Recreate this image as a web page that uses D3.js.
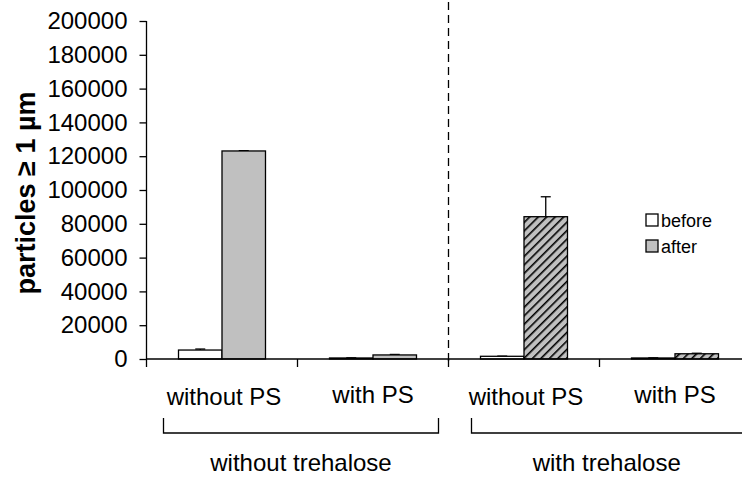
<!DOCTYPE html>
<html>
<head>
<meta charset="utf-8">
<script src="https://cdn.jsdelivr.net/npm/d3@7"></script>
<style>
  body { margin: 0; background: #fff; }
  text { font-family: Arial, "Liberation Sans", sans-serif; fill: #000; }
</style>
</head>
<body>
<div id="chart"></div>
<script>
// datos
const groups = ["g1", "g2", "g3", "g4"];
const psLabels = ["without PS", "with PS", "without PS", "with PS"];
const conditions = ["without trehalose", "with trehalose"];
const series = ["before", "after"];
const beforeValues = [5300, 600, 1600, 600];
const afterValues = [123100, 2400, 84200, 3100];
const beforeErrors = [600, 100, 100, 100];
const afterErrors = [200, 300, 11800, 300];
const hatched = [false, false, true, true];
const yTicks = [0, 20000, 40000, 60000, 80000, 100000, 120000, 140000, 160000, 180000, 200000];

const WIDTH = 742;
const HEIGHT = 477;
const AXIS_X = 146.5;
const BASE_Y = 359;
const TOP_Y = 21;

const svg = d3.select("#chart").append("svg")
    .attr("width", WIDTH)
    .attr("height", HEIGHT);

// patron rayado
const defs = svg.append("defs");
const pat = defs.append("pattern")
    .attr("id", "hatch")
    .attr("patternUnits", "userSpaceOnUse")
    .attr("width", 6)
    .attr("height", 6)
    .attr("patternTransform", "rotate(45)");
pat.append("rect").attr("width", 6).attr("height", 6).attr("fill", "#c0c0c0");
pat.append("line")
    .attr("x1", 0).attr("y1", 0).attr("x2", 0).attr("y2", 6)
    .attr("stroke", "#000").attr("stroke-width", 3.2);

const x = d3.scaleBand().domain(groups).range([AXIS_X, AXIS_X + 151 * 4]);
const xInner = d3.scaleBand().domain(series).range([0, x.bandwidth()]).paddingOuter(0.736);
const y = d3.scaleLinear().domain([0, 200000]).range([BASE_Y, TOP_Y]);

// barras
const rows = groups.map((g, i) => ({
    g: g, i: i,
    bars: [
        { s: "before", v: beforeValues[i], e: beforeErrors[i] },
        { s: "after", v: afterValues[i], e: afterErrors[i] }
    ]
}));

const gGroups = svg.selectAll(".grp").data(rows).join("g")
    .attr("class", "grp")
    .attr("transform", d => `translate(${x(d.g)},0)`);

// barras de error
gGroups.selectAll(".err").data(d => d.bars).join("g").attr("class", "err")
    .each(function(b) {
        const cx = xInner(b.s) + xInner.bandwidth() / 2;
        const g = d3.select(this);
        g.append("line").attr("x1", cx).attr("x2", cx)
            .attr("y1", y(b.v)).attr("y2", y(b.v + b.e))
            .attr("stroke", "#000").attr("stroke-width", 1.3);
        g.append("line").attr("x1", cx - 5).attr("x2", cx + 5)
            .attr("y1", y(b.v + b.e)).attr("y2", y(b.v + b.e))
            .attr("stroke", "#000").attr("stroke-width", 1.3);
    });

gGroups.each(function(d) {
    d3.select(this).selectAll("rect.bar").data(d.bars).join("rect")
        .attr("class", "bar")
        .attr("x", b => xInner(b.s))
        .attr("width", xInner.bandwidth())
        .attr("y", b => y(b.v))
        .attr("height", b => BASE_Y - y(b.v))
        .attr("fill", b => b.s === "before" ? "#fff" : (hatched[d.i] ? "url(#hatch)" : "#c0c0c0"))
        .attr("stroke", "#000")
        .attr("stroke-width", 1.3);
});

// eje y
const yAxis = svg.append("g")
    .attr("transform", `translate(${AXIS_X},0)`)
    .call(d3.axisLeft(y).tickValues(yTicks).tickSize(7).tickPadding(12).tickFormat(d3.format("d")));
yAxis.select(".domain").attr("stroke", "#000").attr("stroke-width", 1.3).attr("d", `M0,${TOP_Y}V${BASE_Y}`);
yAxis.selectAll(".tick line").attr("stroke", "#000").attr("stroke-width", 1.3);
yAxis.selectAll(".tick text").attr("font-size", 24).attr("font-family", "Arial, 'Liberation Sans', sans-serif");

// eje x
svg.append("line")
    .attr("x1", AXIS_X).attr("x2", WIDTH)
    .attr("y1", BASE_Y).attr("y2", BASE_Y)
    .attr("stroke", "#000").attr("stroke-width", 1.3);
svg.selectAll(".xtick").data(groups).join("line")
    .attr("class", "xtick")
    .attr("x1", d => x(d)).attr("x2", d => x(d))
    .attr("y1", BASE_Y).attr("y2", BASE_Y + 8)
    .attr("stroke", "#000").attr("stroke-width", 1.3);

// linea punteada
svg.append("line")
    .attr("x1", x("g3")).attr("x2", x("g3"))
    .attr("y1", 2).attr("y2", BASE_Y + 7)
    .attr("stroke", "#000").attr("stroke-width", 1.3)
    .attr("stroke-dasharray", "8,5");

// etiquetas de categoria
svg.selectAll(".pslabel").data(groups).join("text")
    .attr("class", "pslabel")
    .attr("x", (d, i) => x(d) + x.bandwidth() / 2 + (i % 2 === 0 ? 2 : 0))
    .attr("y", (d, i) => i % 2 === 0 ? 405 : 403)
    .attr("text-anchor", "middle")
    .attr("font-size", 24)
    .text((d, i) => psLabels[i]);

// corchetes
const brackets = [
    { x0: x("g1") + 17, x1: x("g3") - 10, label: conditions[0] },
    { x0: x("g3") + 23, x1: WIDTH + 5, label: conditions[1] }
];
brackets.forEach(b => {
    svg.append("path")
        .attr("d", `M${b.x0},418V433H${b.x1}` + (b.x1 < WIDTH ? "V418" : ""))
        .attr("fill", "none").attr("stroke", "#000").attr("stroke-width", 1.3);
    svg.append("text")
        .attr("x", (b.x0 + Math.min(b.x1, WIDTH)) / 2)
        .attr("y", 471)
        .attr("text-anchor", "middle")
        .attr("font-size", 24)
        .text(b.label);
});

// titulo eje y
svg.append("text")
    .attr("transform", `translate(35,193) rotate(-90)`)
    .attr("text-anchor", "middle")
    .attr("font-size", 27)
    .attr("font-weight", "bold")
    .text("particles \u2265 1 \u00b5m");

// leyenda
const legend = svg.append("g").attr("transform", "translate(646,214)");
series.forEach((s, i) => {
    legend.append("rect")
        .attr("x", 0).attr("y", i * 26)
        .attr("width", 12).attr("height", 12)
        .attr("fill", s === "before" ? "#fff" : "#c0c0c0")
        .attr("stroke", "#000").attr("stroke-width", 1.3);
    legend.append("text")
        .attr("x", 15).attr("y", i * 26 + 13)
        .attr("font-size", 18)
        .text(s);
});
</script>
</body>
</html>
